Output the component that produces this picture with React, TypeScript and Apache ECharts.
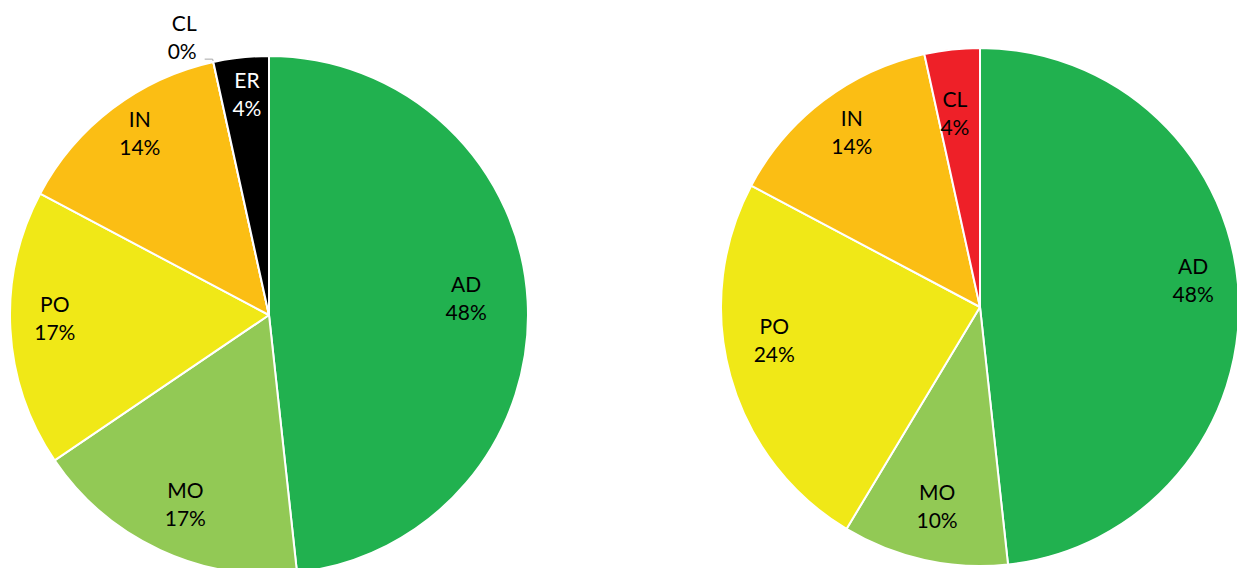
import React, { useEffect, useRef } from "react";
import * as echarts from "echarts";

const leftCategories = ["AD", "MO", "PO", "IN", "CL", "ER"];
const leftValues = [14, 5, 5, 4, 0, 1];
const leftPercentLabels = ["48%", "17%", "17%", "14%", "0%", "4%"];

const rightCategories = ["AD", "MO", "PO", "IN", "CL"];
const rightValues = [14, 3, 7, 4, 1];
const rightPercentLabels = ["48%", "10%", "24%", "14%", "4%"];

const categoryColors: Record<string, string> = {
  AD: "#21B14F",
  MO: "#92C955",
  PO: "#F0E817",
  IN: "#FBBE14",
  CL: "#EE2028",
  ER: "#000000",
};

// label placement nudges (style only), [dx, dy] per slice
const leftLabelNudge: [number, number][] = [[-16, -6], [6, -5], [-1, -9], [0, -13], [-6, -23], [1, -9]];
const rightLabelNudge: [number, number][] = [[0, -16], [3, -10], [0, -25], [1, -6], [-2, 18]];

const FONT = "Lato, 'Open Sans', sans-serif";

function buildSeries(
  cats: string[],
  vals: number[],
  pcts: string[],
  center: [number, number],
  outsideCats: string[],
  nudge: [number, number][]
) {
  const base = {
    type: "pie",
    center,
    startAngle: 90,
    clockwise: true,
    avoidLabelOverlap: false,
    animation: false,
  };
  const visible = {
    ...base,
    radius: [0, 259],
    itemStyle: { borderColor: "#ffffff", borderWidth: 2 },
    emphasis: { disabled: true },
    labelLayout: (params: any) => {
      const i = params.dataIndex;
      if (outsideCats.includes(cats[i])) {
        return { dx: nudge[i][0], dy: nudge[i][1] };
      }
      return {};
    },
    data: cats.map((c, i) => ({
      name: c,
      value: vals[i],
      itemStyle: { color: categoryColors[c] },
      label: outsideCats.includes(c)
        ? {
            show: true,
            position: "outside",
            formatter: c + "\n" + pcts[i],
            color: "#000",
            fontFamily: FONT,
            fontSize: 21,
            lineHeight: 28,
            align: "center",
            distanceToLabelLine: 2,
          }
        : { show: false },
      labelLine: outsideCats.includes(c)
        ? { show: true, length: 3, length2: 8, lineStyle: { color: "#A6A6A6", width: 1 } }
        : { show: false },
    })),
  };
  const labelsRing = {
    ...base,
    radius: [162, 259],
    silent: true,
    itemStyle: { color: "rgba(0,0,0,0)", borderWidth: 0 },
    emphasis: { disabled: true },
    labelLine: { show: false },
    labelLayout: (params: any) => {
      const i = params.dataIndex;
      return { dx: nudge[i][0], dy: nudge[i][1] };
    },
    data: cats.map((c, i) => ({
      name: c,
      value: vals[i],
      label: {
        show: !outsideCats.includes(c),
        position: "inside",
        formatter: c + "\n" + pcts[i],
        color: c === "ER" ? "#ffffff" : "#000000",
        fontFamily: FONT,
        fontSize: 21,
        lineHeight: 28,
      },
    })),
  };
  return [visible, labelsRing];
}

export default function App() {
  const ref = useRef<HTMLDivElement>(null);
  useEffect(() => {
    if (!ref.current) return;
    const chart = echarts.init(ref.current, null, { renderer: "svg" });
    chart.setOption({
      animation: false,
      backgroundColor: "#ffffff",
      series: [
        ...buildSeries(leftCategories, leftValues, leftPercentLabels, [269, 315], ["CL"], leftLabelNudge),
        ...buildSeries(rightCategories, rightValues, rightPercentLabels, [980, 307], [], rightLabelNudge),
      ],
    });
    return () => chart.dispose();
  }, []);
  return (
    <div
      ref={ref}
      style={{ position: "fixed", left: 0, top: 0, width: 1237, height: 568, background: "#fff" }}
    />
  );
}
